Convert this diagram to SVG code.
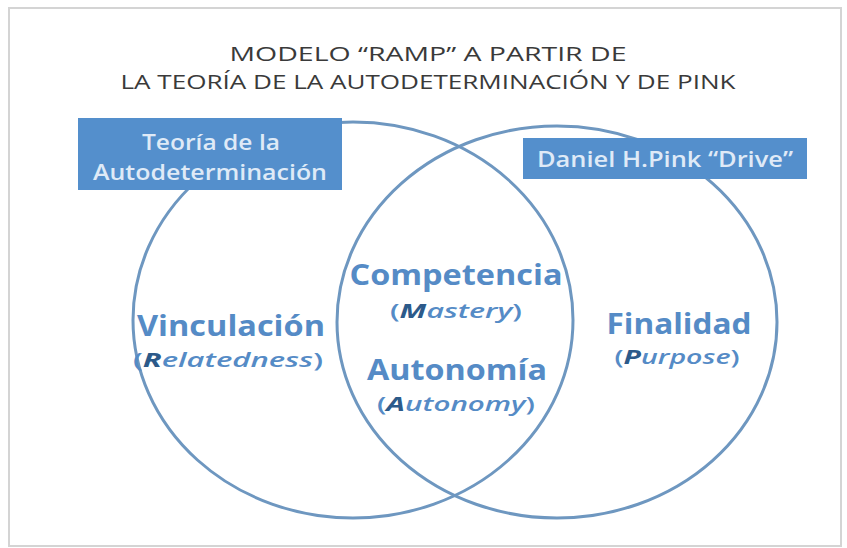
<svg xmlns="http://www.w3.org/2000/svg" width="847" height="548" viewBox="0 0 847 548">
<style>
.title{font-family:"Open Sans","Liberation Sans",sans-serif;font-size:20px;fill:#3a3a3a;text-anchor:middle}
.box{fill:#548fcc}
.boxt{font-family:"Open Sans","Liberation Sans",sans-serif;font-size:21px;font-weight:600;fill:#dfeaf7;text-anchor:middle}
.ring{fill:none;stroke:#6e97c0;stroke-width:3}
.main{font-family:"Open Sans","Liberation Sans",sans-serif;font-size:28px;font-weight:bold;fill:#558bc6;text-anchor:middle}
.sub{font-family:"Open Sans","Liberation Sans",sans-serif;font-size:20px;font-weight:600;font-style:italic;fill:#558bc6;text-anchor:middle}
.sub .p{font-style:normal}
.sub .k{font-weight:bold;fill:#2c5a8a}
</style>
<rect x="0" y="0" width="847" height="548" fill="#ffffff"/>
<rect x="9" y="8" width="832" height="538" fill="#ffffff" stroke="#d4d4d4" stroke-width="2"/>
<g id="title">
<text class="title" x="428" y="61" textLength="397" lengthAdjust="spacingAndGlyphs">MODELO “RAMP” A PARTIR DE</text>
<text class="title" x="428" y="89" textLength="615" lengthAdjust="spacingAndGlyphs">LA TEORÍA DE LA AUTODETERMINACIÓN Y DE PINK</text>
</g>
<g id="connectors">
<ellipse class="ring" cx="353" cy="320" rx="220" ry="198"/>
<ellipse class="ring" cx="557" cy="322" rx="220" ry="196"/>
</g>
<g id="box-teoria">
<rect class="box" x="78" y="118" width="264" height="72"/>
<text class="boxt" x="211" y="150" textLength="138" lengthAdjust="spacingAndGlyphs">Teoría de la</text>
<text class="boxt" x="210" y="180" textLength="234" lengthAdjust="spacingAndGlyphs">Autodeterminación</text>
</g>
<g id="box-pink">
<rect class="box" x="523" y="138" width="284" height="41"/>
<text class="boxt" x="665" y="167" textLength="256" lengthAdjust="spacingAndGlyphs">Daniel H.Pink “Drive”</text>
</g>
<g id="vinculacion">
<text class="main" x="231" y="336" textLength="188" lengthAdjust="spacingAndGlyphs">Vinculación</text>
<text class="sub" x="228" y="367" textLength="190" lengthAdjust="spacingAndGlyphs"><tspan class="p">(</tspan><tspan class="k">R</tspan>elatedness<tspan class="p">)</tspan></text>
</g>
<g id="competencia">
<text class="main" x="456" y="285" textLength="213" lengthAdjust="spacingAndGlyphs">Competencia</text>
<text class="sub" x="456" y="318" textLength="132" lengthAdjust="spacingAndGlyphs"><tspan class="p">(</tspan><tspan class="k">M</tspan>astery<tspan class="p">)</tspan></text>
</g>
<g id="autonomia">
<text class="main" x="457" y="380" textLength="180" lengthAdjust="spacingAndGlyphs">Autonomía</text>
<text class="sub" x="456" y="411" textLength="158" lengthAdjust="spacingAndGlyphs"><tspan class="p">(</tspan><tspan class="k">A</tspan>utonomy<tspan class="p">)</tspan></text>
</g>
<g id="finalidad">
<text class="main" x="679" y="334" textLength="145" lengthAdjust="spacingAndGlyphs">Finalidad</text>
<text class="sub" x="677" y="364" textLength="125" lengthAdjust="spacingAndGlyphs"><tspan class="p">(</tspan><tspan class="k">P</tspan>urpose<tspan class="p">)</tspan></text>
</g>
</svg>
